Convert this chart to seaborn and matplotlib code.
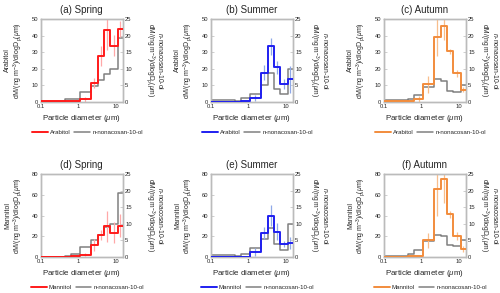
import numpy as np
import pandas as pd
import matplotlib
matplotlib.use("Agg")
import matplotlib.pyplot as plt
import matplotlib.ticker as mticker
import seaborn as sns
from matplotlib.lines import Line2D

# ---------------- data ----------------
edges = [0.1, 0.43, 0.65, 1.1, 2.1, 3.3, 4.7, 7.0, 11.0, 15.0]
titles = ["(a) Spring", "(b) Summer", "(c) Autumn", "(d) Spring", "(e) Summer", "(f) Autumn"]
compounds = ["Arabitol", "Arabitol", "Arabitol", "Mannitol", "Mannitol", "Mannitol"]
tracer_name = "n-nonacosan-10-ol"

arabitol_spring = [0.3, 0.3, 0.4, 1.7, 11.5, 27.5, 43.5, 34.0, 44.0]
arabitol_spring_err = [0, 0, 0, 1.5, 3.0, 6.0, 12.0, 6.5, 5.0]
arabitol_summer = [0.2, 0.2, 0.3, 2.4, 17.5, 33.5, 21.0, 11.0, 13.7]
arabitol_summer_err = [0, 0, 0, 2.0, 4.5, 5.0, 4.0, 3.0, 8.0]
arabitol_autumn = [0.3, 0.5, 1.8, 10.6, 39.0, 46.0, 30.7, 17.3, 7.5]
arabitol_autumn_err = [0, 0, 2.0, 5.0, 11.0, 8.5, 1.5, 2.0, 1.5]

mannitol_spring = [0.3, 0.3, 0.5, 2.0, 11.5, 21.0, 29.5, 23.5, 30.0]
mannitol_spring_err = [0, 0, 0, 1.5, 5.5, 4.8, 15.0, 10.0, 11.0]
mannitol_summer = [0.3, 0.3, 0.3, 4.5, 23.0, 40.0, 24.5, 12.5, 13.5]
mannitol_summer_err = [0, 0, 0, 4.0, 5.6, 10.5, 8.0, 3.0, 6.0]
mannitol_autumn = [0.3, 0.5, 1.3, 16.0, 66.0, 75.0, 41.0, 20.5, 8.0]
mannitol_autumn_err = [0, 0, 0, 7.0, 26.0, 23.0, 3.0, 4.0, 3.0]

tracer_a = [0.1, 1.0, 1.0, 2.9, 4.9, 6.7, 8.5, 9.9, 19.4]
tracer_b = [0.6, 0.2, 1.2, 2.3, 5.0, 8.8, 4.0, 2.3, 9.9]
tracer_c = [0.5, 1.0, 2.0, 4.4, 7.0, 6.4, 3.4, 3.1, 5.0]
tracer_d = [0.1, 0.3, 1.0, 2.9, 5.1, 6.6, 9.1, 9.9, 19.4]
tracer_e = [0.5, 0.2, 0.8, 2.6, 5.3, 8.8, 4.0, 2.1, 9.9]
tracer_f = [0.3, 0.9, 2.1, 4.8, 6.7, 6.4, 3.6, 3.4, 5.0]

sugar_vals = [arabitol_spring, arabitol_summer, arabitol_autumn,
              mannitol_spring, mannitol_summer, mannitol_autumn]
sugar_errs = [arabitol_spring_err, arabitol_summer_err, arabitol_autumn_err,
              mannitol_spring_err, mannitol_summer_err, mannitol_autumn_err]
tracer_vals = [tracer_a, tracer_b, tracer_c, tracer_d, tracer_e, tracer_f]

left_max = [50, 50, 50, 80, 80, 80]
left_step = [10, 10, 10, 20, 20, 20]

# ---------------- style ----------------
sns.set_style("white")
plt.rcParams["font.family"] = ["Liberation Sans", "DejaVu Sans"]
plt.rcParams["mathtext.fontset"] = "custom"
plt.rcParams["mathtext.rm"] = "Liberation Sans"
plt.rcParams["mathtext.it"] = "Liberation Sans:italic"
plt.rcParams["mathtext.bf"] = "Liberation Sans:bold"

line_colors = ["#FF1A1A", "#1F1FF0", "#F28C3C"] * 2
err_colors = ["#FFA8A8", "#8FA8E8", "#F8BE8C"] * 2
gray = "#808080"
frame = "#BBBBBB"

fig = plt.figure(figsize=(5.0, 2.93), dpi=100)
lefts = [0.081, 0.421, 0.767]
bottoms = [0.652, 0.123]
w, h = 0.165, 0.283
right_pads = [8, 4, 2]

unit = r"dM/(ng m$^{-3}$)/dlogD$_\mathrm{p}$($\mu$m)"

mids = [np.sqrt(edges[i] * edges[i + 1]) for i in range(len(edges) - 1)]

for k in range(6):
    r, c = divmod(k, 3)
    ax = fig.add_axes([lefts[c], bottoms[r], w, h])
    tw = ax.twinx()
    ax.set_zorder(tw.get_zorder() + 1)
    ax.patch.set_visible(False)
    for a in (ax, tw):
        a.set_xscale("log")
        a.set_xlim(0.1, 15)

    vals = sugar_vals[k]
    ys = list(vals) + [vals[-1]]
    tys = list(tracer_vals[k]) + [tracer_vals[k][-1]]
    df = pd.DataFrame({"x": edges, "sugar": ys, "tracer": tys})

    sns.lineplot(data=df, x="x", y="tracer", ax=tw, color=gray, lw=1.1,
                 drawstyle="steps-post", estimator=None, sort=False)
    errs = sugar_errs[k]
    ax.errorbar(mids, vals, yerr=errs, fmt="none", ecolor=err_colors[k],
                elinewidth=0.9, capsize=0, zorder=1)
    sns.lineplot(data=df, x="x", y="sugar", ax=ax, color=line_colors[k], lw=1.4,
                 drawstyle="steps-post", estimator=None, sort=False, zorder=3)

    ax.set_ylim(0, left_max[k])
    ax.set_yticks(np.arange(0, left_max[k] + 1, left_step[k]))
    tw.set_ylim(0, 25)
    tw.set_yticks(np.arange(0, 26, 5))
    ax.set_xticks([0.1, 1, 10])
    ax.set_xticklabels(["0.1", "1", "10"])
    ax.xaxis.set_minor_locator(mticker.LogLocator(base=10, subs=np.arange(2, 10)))
    ax.xaxis.set_minor_formatter(mticker.NullFormatter())

    for a in (ax, tw):
        for s in a.spines.values():
            s.set_color(frame)
            s.set_linewidth(1.0)
        a.tick_params(axis="both", which="major", labelsize=4.2, length=2,
                      width=0.5, color=frame, pad=1.5, direction="in")
        a.tick_params(axis="x", which="minor", length=1.2, width=0.4,
                      color=frame, direction="in")

    ax.set_title(titles[k], fontsize=7, pad=4)
    ax.set_xlabel(r"Particle diameter ($\mu$m)", fontsize=5.7, labelpad=3)
    ax.set_ylabel(compounds[k] + "\n" + unit, fontsize=5, labelpad=5, linespacing=1.1)
    tw.set_ylabel(r"$\it{n}$-nonacosan-10-ol" + "\n" + unit, fontsize=4.9,
                  rotation=270, va="bottom", labelpad=right_pads[c], linespacing=1.05)

    handles = [Line2D([], [], color=line_colors[k], lw=1.4),
               Line2D([], [], color=gray, lw=1.1)]
    ax.legend(handles, [compounds[k], tracer_name], loc="center",
              bbox_to_anchor=(0.57, -0.37), ncol=2, frameon=False,
              fontsize=4.4, handlelength=2.6, handletextpad=0.3,
              columnspacing=0.6, borderaxespad=0)

fig.savefig("out.png", dpi=100)
